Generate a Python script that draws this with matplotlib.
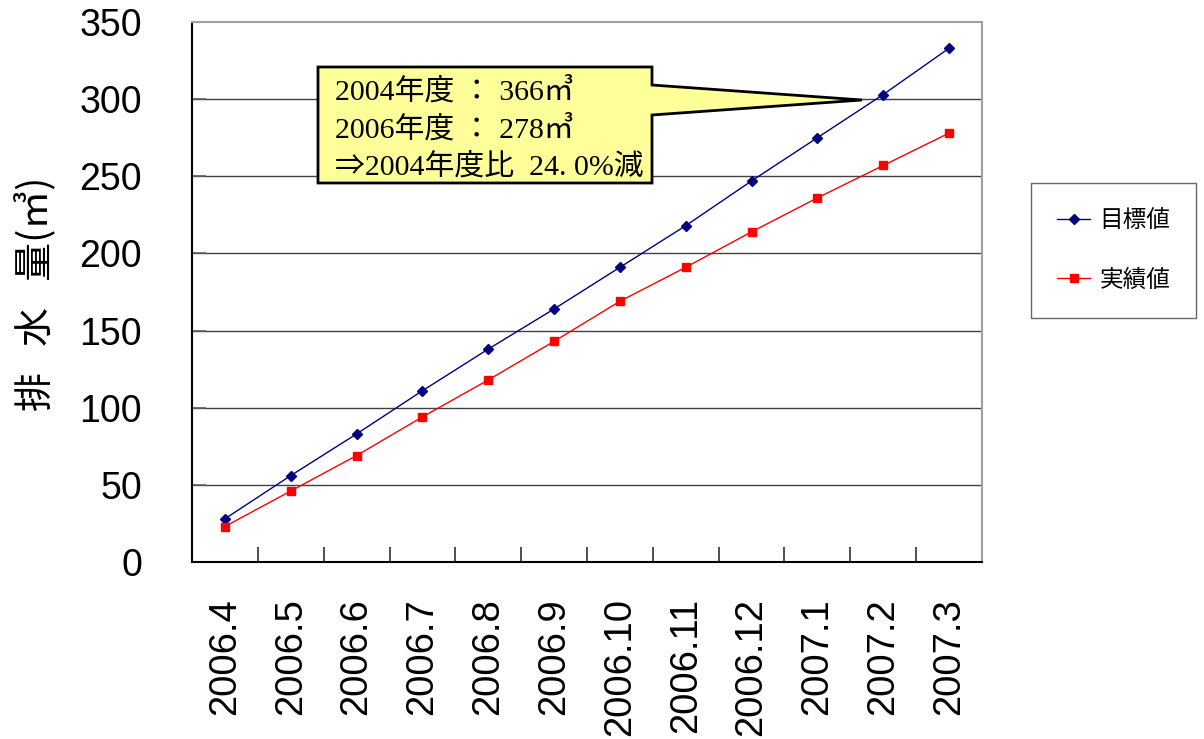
import matplotlib
matplotlib.use("Agg")
import matplotlib.pyplot as plt
from matplotlib.patches import Polygon

months = ["2006.4", "2006.5", "2006.6", "2006.7", "2006.8", "2006.9",
          "2006.10", "2006.11", "2006.12", "2007.1", "2007.2", "2007.3"]
target = [28, 56, 83, 111, 138, 164, 191, 218, 247, 275, 303, 333]
actual = [23, 46, 69, 94, 118, 143, 169, 191, 214, 236, 257, 278]
yticks = [0, 50, 100, 150, 200, 250, 300, 350]

note_lines = ["2004年度 ： 366㎥", "2006年度 ： 278㎥", "⇒2004年度比  24. 0%減"]

W, H = 1204, 739
fig = plt.figure(figsize=(W / 100, H / 100), dpi=100)
ax = fig.add_axes([192 / W, 1 - 562 / H, (982 - 192) / W, (562 - 22) / H])

x = list(range(len(months)))
ax.plot(x, target, color="#000080", lw=1, marker="D", ms=5.5, label="目標値")
ax.plot(x, actual, color="#FF0000", lw=1, marker="s", ms=5.5, label="実績値")

ax.set_xlim(-0.5, len(months) - 0.5)
ax.set_ylim(0, 350)

# horizontal grid
for v in yticks[1:-1]:
    ax.axhline(v, color="#404040", lw=1, zorder=0)

ax.set_yticks(yticks)
ax.set_yticklabels([str(v) for v in yticks], fontsize=27, family="Liberation Sans")
ax.tick_params(axis="y", direction="in", length=10, width=1.2, color="#606060", pad=36)

ax.set_xticks(x)
ax.set_xticklabels(months, rotation=90, fontsize=27.5, family="Liberation Sans", va="top")
ax.tick_params(axis="x", which="major", length=0, pad=26)
ax.set_xticks([i - 0.5 for i in range(len(months) + 1)], minor=True)
ax.tick_params(axis="x", which="minor", direction="in", length=10.5, width=1.2, color="#303030")

for s in ["left", "bottom"]:
    ax.spines[s].set_color("black")
    ax.spines[s].set_linewidth(1.5)
for s in ["top", "right"]:
    ax.spines[s].set_color("#A0A0A0")
    ax.spines[s].set_linewidth(1.5)

fig.text(35 / W, 1 - 294 / H, "排   水   量(㎥)", rotation=90, fontsize=28,
         family=["Noto Sans CJK JP", "DejaVu Sans"], ha="center", va="center")

leg = ax.legend(loc="upper left", bbox_to_anchor=(1031 / W, 1 - 183 / H),
                bbox_transform=fig.transFigure, borderaxespad=0, frameon=True,
                fancybox=False, handlelength=1.4, handletextpad=0.4,
                labelspacing=1.55, borderpad=1.1,
                prop={"family": "Noto Sans CJK JP", "size": 17})
leg.get_frame().set_edgecolor("#404040")
leg.get_frame().set_linewidth(1.0)

# callout box with pointer
def px(xp, yp):
    return (xp / W, 1 - yp / H)

callout = [px(318, 67), px(652, 67), px(652, 85), px(862, 100), px(652, 115),
           px(652, 183), px(318, 183)]
fig.patches.append(Polygon(callout, closed=True, transform=fig.transFigure,
                           facecolor="#FFFF99", edgecolor="black", lw=2, zorder=5))
for i, line in enumerate(note_lines):
    fig.text(335 / W, 1 - (91 + 38.5 * i) / H, line, fontsize=21.5,
             family=["Liberation Serif", "Noto Sans CJK JP"],
             ha="left", va="center", zorder=6)

fig.savefig("out.png", dpi=100)
